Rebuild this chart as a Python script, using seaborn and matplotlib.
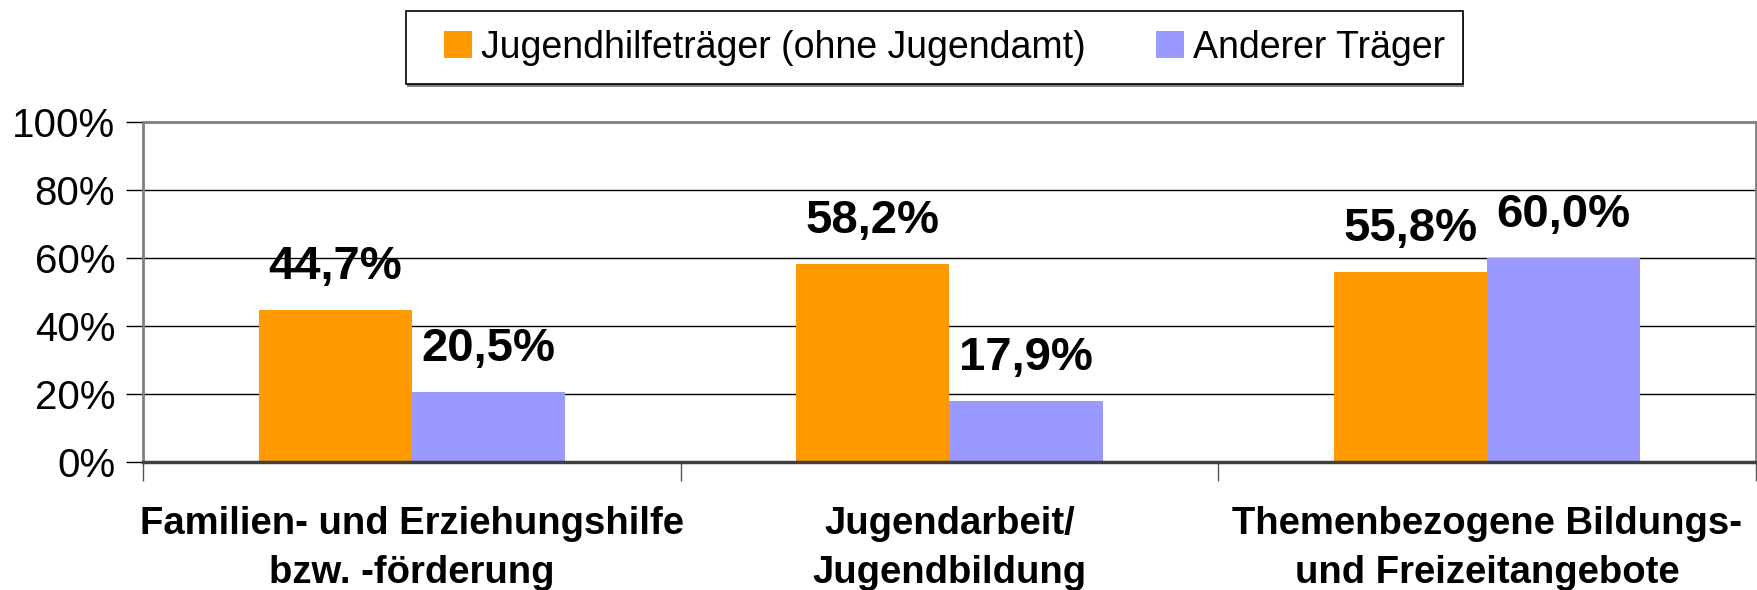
import matplotlib
matplotlib.use("Agg")
import matplotlib.pyplot as plt
from matplotlib.patches import Rectangle
import seaborn as sns
import pandas as pd

categories = ["Familien- und Erziehungshilfe\nbzw. -förderung",
              "Jugendarbeit/\nJugendbildung",
              "Themenbezogene Bildungs-\nund Freizeitangebote"]
series_names = ["Jugendhilfeträger (ohne Jugendamt)", "Anderer Träger"]
jugendhilfe = [44.7, 58.2, 55.8]
anderer = [20.5, 17.9, 60.0]
ytick_values = [0, 20, 40, 60, 80, 100]
ytick_labels = ["0%", "20%", "40%", "60%", "80%", "100%"]
colors = ["#FF9900", "#9999FF"]

sns.set_style("white")
plt.rcParams['font.family'] = ['Liberation Sans', 'DejaVu Sans']
plt.rcParams['text.color'] = 'black'
plt.rcParams['xtick.color'] = 'black'
plt.rcParams['ytick.color'] = 'black'
plt.rcParams['xtick.labelcolor'] = 'black'
plt.rcParams['ytick.labelcolor'] = 'black'

df = pd.DataFrame({
    "cat": categories * 2,
    "series": [series_names[0]] * 3 + [series_names[1]] * 3,
    "value": jugendhilfe + anderer,
})

fig = plt.figure(figsize=(17.58, 5.90), dpi=100)
ax = fig.add_axes([143 / 1758, 1 - 462 / 590, (1756 - 143) / 1758, (462 - 122) / 590])

sns.barplot(data=df, x="cat", y="value", hue="series", palette=colors,
            width=0.57, saturation=1, ax=ax, legend=True, linewidth=0, edgecolor="none")

ax.set_xlim(-0.5, 2.5)
ax.set_ylim(0, 100)
ax.set_xlabel("")
ax.set_ylabel("")

for v in ytick_values[1:-1]:
    ax.axhline(v, color="black", linewidth=1.0, zorder=0)

ax.set_yticks(ytick_values)
ax.set_yticklabels(ytick_labels, fontsize=29)
ax.tick_params(axis="y", length=12, width=1, color="black", pad=8, left=True)

ax.set_xticks([0, 1, 2])
ax.set_xticklabels(categories, fontsize=27.5, fontweight="bold", linespacing=1.45)
ax.tick_params(axis="x", which="major", length=0, pad=32)
ax.set_xticks([-0.5, 0.5, 1.5, 2.5], minor=True)
ax.tick_params(axis="x", which="minor", length=14, width=1, color="#555555", bottom=True)

for side in ["left", "top", "right"]:
    ax.spines[side].set_visible(True)
    ax.spines[side].set_color("#808080")
    ax.spines[side].set_linewidth(2)
ax.spines["bottom"].set_color("#404040")
ax.spines["bottom"].set_linewidth(2.5)

for container in ax.containers:
    for bar in container:
        h = bar.get_height()
        ax.annotate(f"{h:.1f}%".replace(".", ","),
                    (bar.get_x() + bar.get_width() / 2, h),
                    xytext=(0, 31), textcoords="offset points",
                    ha="center", va="center", fontsize=34, fontweight="bold")

handles, labels = ax.get_legend_handles_labels()
ax.get_legend().remove()
leg = fig.legend(handles, labels, loc="center", bbox_to_anchor=(944.5 / 1758, 1 - 47.5 / 590),
                 ncol=2, fontsize=27, frameon=False,
                 handlelength=0.75, handleheight=0.75, handletextpad=0.25,
                 columnspacing=1.85)

# legend frame with shadow
x0, y0, x1, y1 = 406 / 1758, 1 - 84 / 590, 1463 / 1758, 1 - 11 / 590
fig.patches.append(Rectangle((x0 + 1 / 1758, y0 - 3 / 590), x1 - x0, y1 - y0, transform=fig.transFigure,
                             facecolor="#808080", edgecolor="none", zorder=0))
fig.patches.append(Rectangle((x0, y0), x1 - x0, y1 - y0, transform=fig.transFigure,
                             facecolor="white", edgecolor="black", linewidth=1.2, zorder=1))

fig.savefig("out.png", dpi=100)
